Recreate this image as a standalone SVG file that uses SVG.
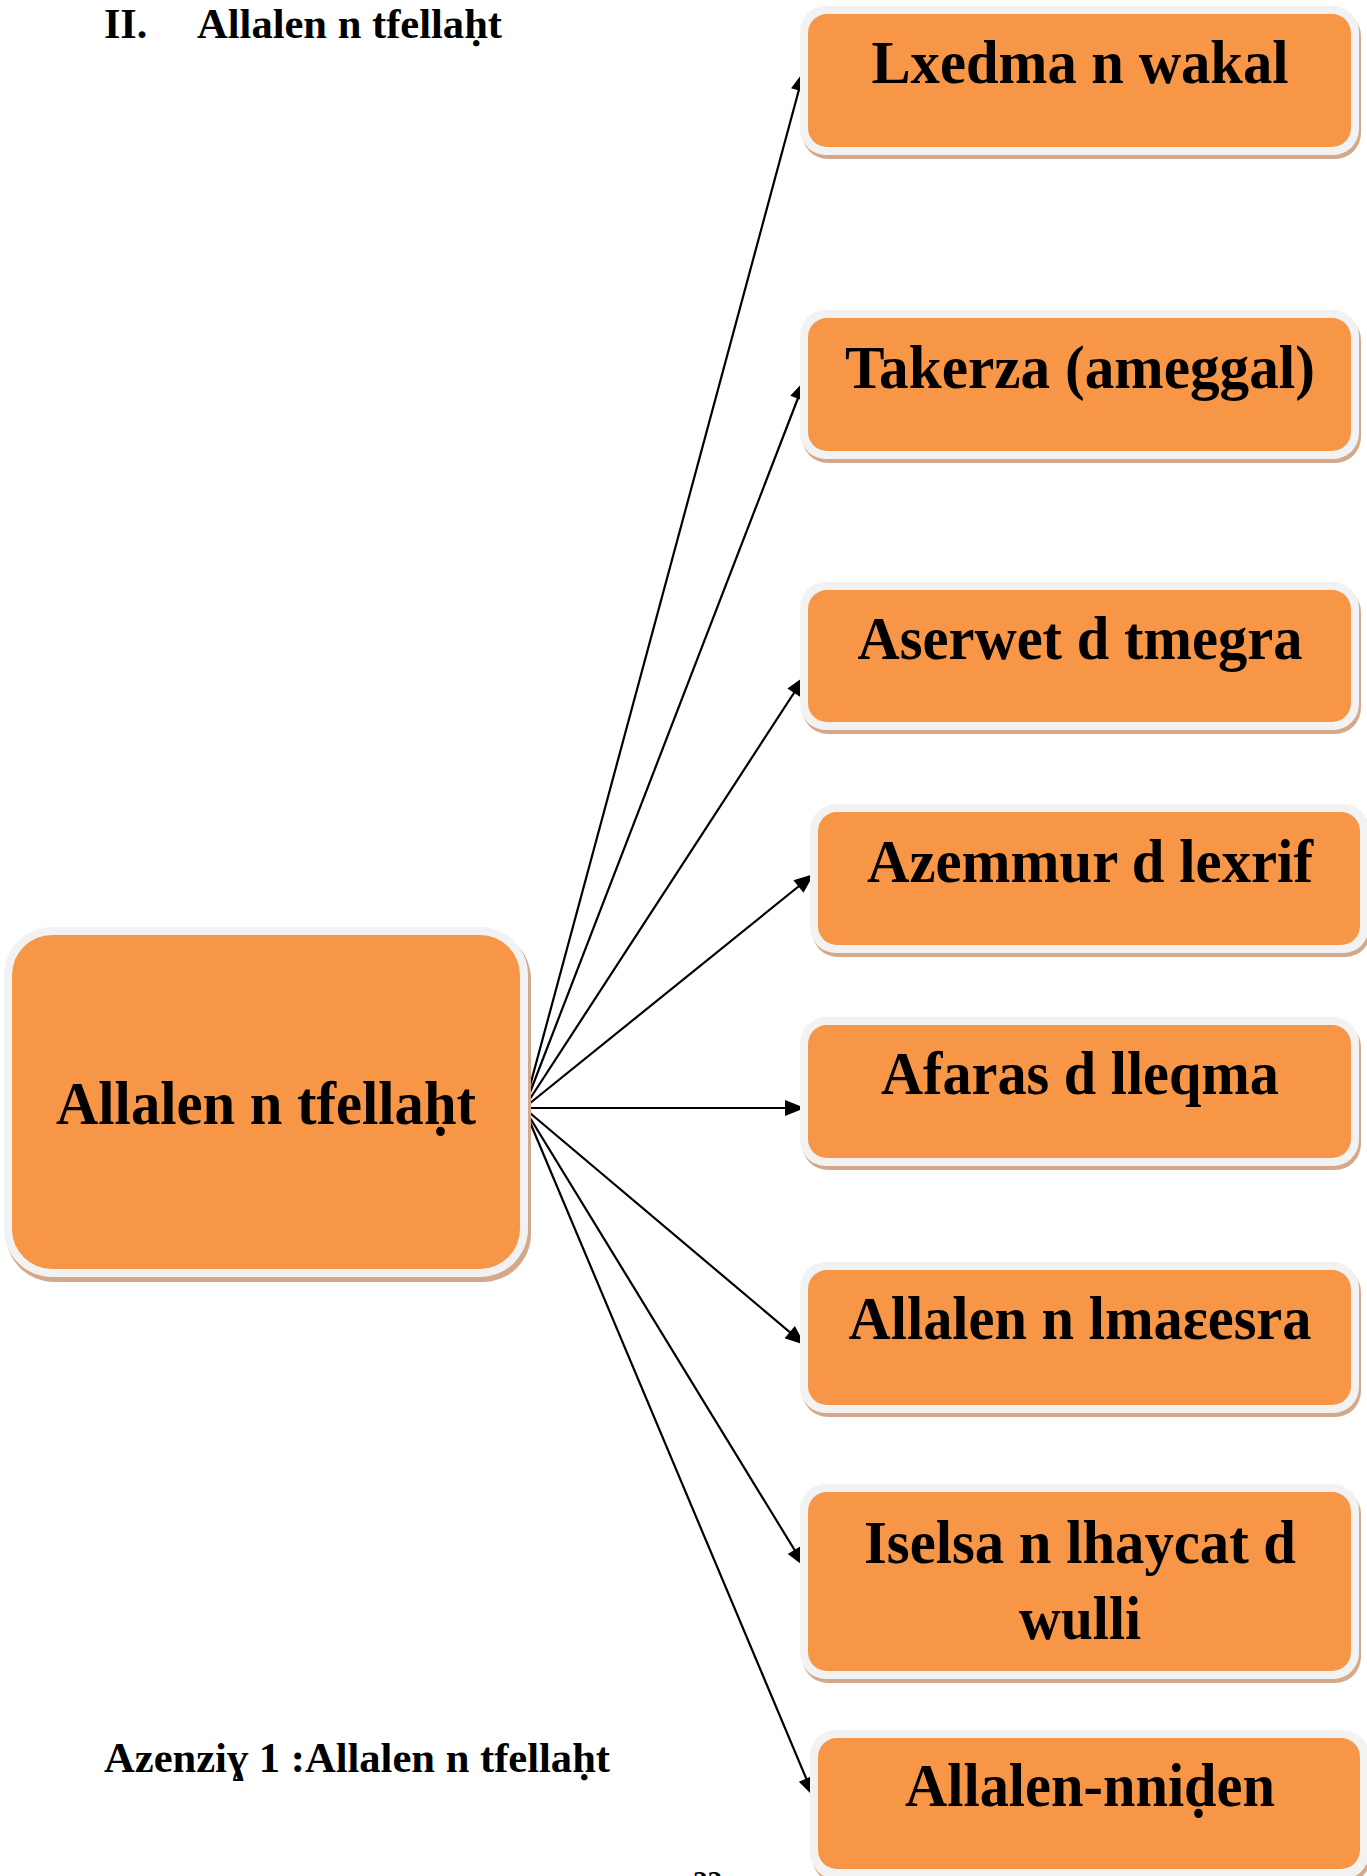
<svg xmlns="http://www.w3.org/2000/svg" width="1367" height="1876" viewBox="0 0 1367 1876">
<style>
.t{font-family:"Liberation Serif","Times New Roman",serif;font-weight:bold;fill:#000}
.nt{font-size:61px;text-anchor:middle}
.cap{font-size:42px}
.sh{fill:#D4A98B}
.bd{fill:#F2F2F2}
.or{fill:#F79646}
.ln{stroke:#000;stroke-width:2.2;fill:none}
</style>
<defs>
<marker id="ah" markerUnits="userSpaceOnUse" viewBox="0 0 20 16" markerWidth="20" markerHeight="16" refX="20" refY="8" orient="auto" overflow="visible">
<path d="M0,0 L20,8 L0,16 z" fill="#000"/>
</marker>
</defs>
<rect width="1367" height="1876" fill="#fff"/>
<g id="title">
<text class="t cap" x="104" y="38">II.</text>
<text class="t cap" x="197" y="38" textLength="305" lengthAdjust="spacingAndGlyphs">Allalen n tfellaḥt</text>
</g>
<g id="connectors">
<line class="ln" x1="524" y1="1108" x2="804" y2="71" marker-end="url(#ah)"/>
<line class="ln" x1="524" y1="1108" x2="805" y2="380" marker-end="url(#ah)"/>
<line class="ln" x1="524" y1="1108" x2="805" y2="676" marker-end="url(#ah)"/>
<line class="ln" x1="524" y1="1108" x2="814" y2="874" marker-end="url(#ah)"/>
<line class="ln" x1="524" y1="1108" x2="805" y2="1108" marker-end="url(#ah)"/>
<line class="ln" x1="524" y1="1108" x2="805" y2="1345" marker-end="url(#ah)"/>
<line class="ln" x1="524" y1="1108" x2="805" y2="1567" marker-end="url(#ah)"/>
<line class="ln" x1="524" y1="1108" x2="814" y2="1797" marker-end="url(#ah)"/>
</g>
<g id="main">
<rect class="sh" x="6" y="931" width="525" height="351" rx="48"/>
<rect class="bd" x="4" y="927" width="524" height="350" rx="48"/>
<rect class="or" x="12" y="935" width="508" height="334" rx="40"/>
<text class="t nt" x="266" y="1124" textLength="420" lengthAdjust="spacingAndGlyphs">Allalen n tfellaḥt</text>
</g>
<g id="n1">
<rect class="sh" x="802" y="10" width="559" height="149" rx="26"/>
<rect class="bd" x="800" y="6" width="559" height="149" rx="26"/>
<rect class="or" x="808" y="14" width="543" height="133" rx="19"/>
<text class="t nt" x="1080" y="83" textLength="417" lengthAdjust="spacingAndGlyphs">Lxedma n wakal</text>
</g>
<g id="n2">
<rect class="sh" x="802" y="314" width="559" height="149" rx="26"/>
<rect class="bd" x="800" y="310" width="559" height="149" rx="26"/>
<rect class="or" x="808" y="318" width="543" height="133" rx="19"/>
<text class="t nt" x="1080" y="388" textLength="470" lengthAdjust="spacingAndGlyphs">Takerza (ameggal)</text>
</g>
<g id="n3">
<rect class="sh" x="802" y="586" width="559" height="148" rx="26"/>
<rect class="bd" x="800" y="582" width="559" height="148" rx="26"/>
<rect class="or" x="808" y="590" width="543" height="132" rx="19"/>
<text class="t nt" x="1080" y="659" textLength="445" lengthAdjust="spacingAndGlyphs">Aserwet d tmegra</text>
</g>
<g id="n4">
<rect class="sh" x="812" y="808" width="559" height="149" rx="26"/>
<rect class="bd" x="810" y="804" width="559" height="149" rx="26"/>
<rect class="or" x="818" y="812" width="542" height="133" rx="19"/>
<text class="t nt" x="1090" y="882" textLength="446" lengthAdjust="spacingAndGlyphs">Azemmur d lexrif</text>
</g>
<g id="n5">
<rect class="sh" x="802" y="1021" width="559" height="149" rx="26"/>
<rect class="bd" x="800" y="1017" width="559" height="149" rx="26"/>
<rect class="or" x="808" y="1025" width="543" height="133" rx="19"/>
<text class="t nt" x="1080" y="1094" textLength="398" lengthAdjust="spacingAndGlyphs">Afaras d lleqma</text>
</g>
<g id="n6">
<rect class="sh" x="802" y="1266" width="559" height="151" rx="26"/>
<rect class="bd" x="800" y="1262" width="559" height="151" rx="26"/>
<rect class="or" x="808" y="1270" width="543" height="135" rx="19"/>
<text class="t nt" x="1080" y="1339" textLength="463" lengthAdjust="spacingAndGlyphs">Allalen n lmaɛesra</text>
</g>
<g id="n7">
<rect class="sh" x="802" y="1488" width="559" height="195" rx="26"/>
<rect class="bd" x="800" y="1484" width="559" height="195" rx="26"/>
<rect class="or" x="808" y="1492" width="543" height="179" rx="19"/>
<text class="t nt" x="1080" y="1563" textLength="432" lengthAdjust="spacingAndGlyphs">Iselsa n lhaycat d</text>
<text class="t nt" x="1080" y="1639" textLength="122" lengthAdjust="spacingAndGlyphs">wulli</text>
</g>
<g id="n8">
<rect class="sh" x="812" y="1734" width="559" height="149" rx="26"/>
<rect class="bd" x="810" y="1730" width="559" height="149" rx="26"/>
<rect class="or" x="818" y="1738" width="542" height="131" rx="19"/>
<text class="t nt" x="1090" y="1806" textLength="370" lengthAdjust="spacingAndGlyphs">Allalen-nniḍen</text>
</g>
<g id="caption">
<text class="t cap" x="104" y="1772" textLength="506" lengthAdjust="spacingAndGlyphs">Azenziɣ 1 :Allalen n tfellaḥt</text>
<text class="t" x="693" y="1891" font-size="29">22</text>
</g>
</svg>
